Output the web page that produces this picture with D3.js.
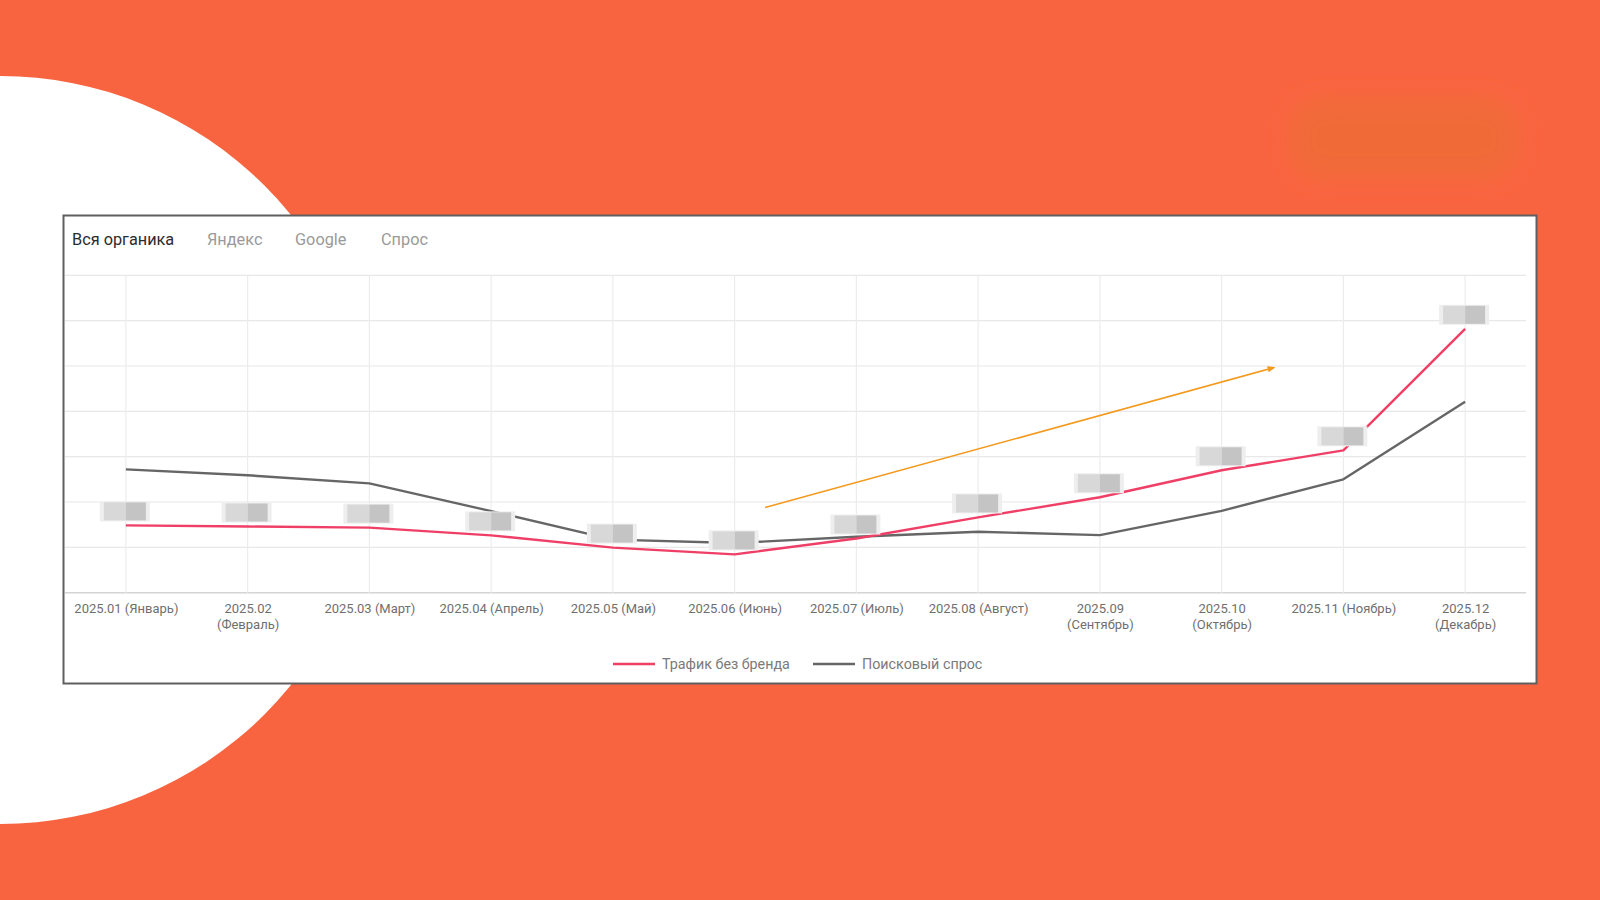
<!DOCTYPE html>
<html><head><meta charset="utf-8">
<script src="https://cdn.jsdelivr.net/npm/d3@7"></script>
<style>
html,body{margin:0;padding:0;background:#F96440;overflow:hidden;}
svg{display:block;}
</style></head>
<body>
<svg id="c" width="1600" height="900"></svg>
<script>
// ---- data ----
const categories = ["2025.01","2025.02","2025.03","2025.04","2025.05","2025.06","2025.07","2025.08","2025.09","2025.10","2025.11","2025.12"];
const tickLabels = [
  ["2025.01 (Январь)"], ["2025.02","(Февраль)"], ["2025.03 (Март)"], ["2025.04 (Апрель)"],
  ["2025.05 (Май)"], ["2025.06 (Июнь)"], ["2025.07 (Июль)"], ["2025.08 (Август)"],
  ["2025.09","(Сентябрь)"], ["2025.10","(Октябрь)"], ["2025.11 (Ноябрь)"], ["2025.12","(Декабрь)"]
];
const trafficNoBrand = [14850,14600,14350,12650,9950,8450,11950,16600,21050,27000,31400,58200];
const searchDemand   = [27200,25900,24100,18000,11700,10950,12350,13450,12700,18050,25000,42100];
const yTicks = [0,10000,20000,30000,40000,50000,60000,70000];
const tabs = ["Вся органика","Яндекс","Google","Спрос"];
const seriesNames = ["Трафик без бренда","Поисковый спрос"];
const trendArrow = [{i:5.25, v:18770},{i:9.43, v:49650}];

// ---- layout ----
const svg = d3.select("#c");
const defs = svg.append("defs");
defs.append("filter").attr("id","blurBig").attr("x","-30%").attr("y","-60%").attr("width","160%").attr("height","220%")
  .append("feGaussianBlur").attr("stdDeviation",11);
defs.append("filter").attr("id","blurSmall").attr("x","-20%").attr("y","-40%").attr("width","140%").attr("height","180%")
  .append("feGaussianBlur").attr("stdDeviation",0.7);
defs.append("marker").attr("id","arrowHead").attr("viewBox","0 0 10 10").attr("refX",8).attr("refY",5)
  .attr("markerWidth",5).attr("markerHeight",5).attr("orient","auto")
  .append("path").attr("d","M0,1 L10,5 L0,9 z").attr("fill","#F39A1E");

// background
svg.append("rect").attr("width",1600).attr("height",900).attr("fill","#F96440");
svg.append("circle").attr("cx",0).attr("cy",450).attr("r",374).attr("fill","#ffffff");
svg.append("rect").attr("x",1290).attr("y",98).attr("width",228).attr("height",80).attr("rx",30)
  .attr("fill","#F06B38").attr("filter","url(#blurBig)");

// card
svg.append("rect").attr("x",63.5).attr("y",215.5).attr("width",1473).attr("height",468)
  .attr("fill","#ffffff").attr("stroke","#5f5f5f").attr("stroke-width",2);

// tabs
const tabX = [72,207,295,381];
svg.append("g").selectAll("text").data(tabs).join("text")
  .attr("x",(d,i)=>tabX[i]).attr("y",245)
  .attr("font-family","Roboto, 'Noto Sans', sans-serif").attr("font-size",16.3)
  .attr("fill",(d,i)=>i===0?"#2b2b2b":"#9a9a9a")
  .text(d=>d);

// scales
const x = d3.scalePoint().domain(categories).range([65,1526]).padding(0.5);
const xi = d3.scaleLinear().domain([0,categories.length-1]).range([x(categories[0]), x(categories[categories.length-1])]);
const y = d3.scaleLinear().domain([0,70000]).range([592.7,275.3]);

// grid
const grid = svg.append("g");
grid.selectAll("line.h").data(yTicks).join("line").attr("class","h")
  .attr("x1",65).attr("x2",1526).attr("y1",d=>y(d)).attr("y2",d=>y(d))
  .attr("stroke",d=>d===0?"#d4d4d4":"#e8e8e8").attr("stroke-width",d=>d===0?1.6:1.2);
grid.selectAll("line.v").data(categories).join("line").attr("class","v")
  .attr("x1",d=>x(d)).attr("x2",d=>x(d)).attr("y1",y(70000)).attr("y2",y(0))
  .attr("stroke","#ececec").attr("stroke-width",1.2);

// x axis
const xAxis = d3.axisBottom(x).tickSize(0).tickPadding(0).tickFormat((d,i)=>tickLabels[i].join(" "));
const ax = svg.append("g").attr("transform",`translate(0,${y(0)})`).call(xAxis);
ax.select(".domain").remove();
ax.selectAll(".tick text").each(function(d,i){
  const t = d3.select(this);
  t.text(null).attr("y",0).attr("dy",null)
   .attr("font-family","Roboto, 'Noto Sans', sans-serif").attr("font-size",13).attr("fill","#6f6f6f");
  tickLabels[i].forEach((ln,k)=>{
    t.append("tspan").attr("x",0).attr("y",20.8+k*15.5).text(ln);
  });
});

// lines
const line = d3.line().x((d,i)=>x(categories[i])).y(d=>y(d));
svg.append("path").datum(searchDemand).attr("d",line).attr("fill","none")
  .attr("stroke","#666666").attr("stroke-width",2.4).attr("stroke-linejoin","round");
svg.append("path").datum(trafficNoBrand).attr("d",line).attr("fill","none")
  .attr("stroke","#F03F66").attr("stroke-width",2.4).attr("stroke-linejoin","round");

// redacted value labels (pixelated boxes above the traffic series)
const lbl = svg.append("g").attr("filter","url(#blurSmall)");
trafficNoBrand.forEach((v,i)=>{
  const cx = x(categories[i]) - 1, by = y(v) - 4;
  lbl.append("rect").attr("x",cx-25).attr("y",by-20).attr("width",50).attr("height",20).attr("fill","#eeeeee");
  lbl.append("rect").attr("x",cx-21).attr("y",by-19).attr("width",22).attr("height",18).attr("fill","#d8d8d8");
  lbl.append("rect").attr("x",cx+1).attr("y",by-19).attr("width",20).attr("height",18).attr("fill","#c4c4c4");
});

// trend arrow
svg.append("line")
  .attr("x1",xi(trendArrow[0].i)).attr("y1",y(trendArrow[0].v))
  .attr("x2",xi(trendArrow[1].i)).attr("y2",y(trendArrow[1].v))
  .attr("stroke","#F39A1E").attr("stroke-width",1.6).attr("marker-end","url(#arrowHead)");

// legend
const legendColors = ["#F03F66","#666666"];
const legX = [613,813];
const lg = svg.append("g");
seriesNames.forEach((n,i)=>{
  lg.append("line").attr("x1",legX[i]).attr("x2",legX[i]+42).attr("y1",664).attr("y2",664)
    .attr("stroke",legendColors[i]).attr("stroke-width",2.4);
  lg.append("text").attr("x",legX[i]+49).attr("y",669)
    .attr("font-family","Roboto, 'Noto Sans', sans-serif").attr("font-size",14.3).attr("fill","#7a7a7a").text(n);
});
</script>
</body></html>
